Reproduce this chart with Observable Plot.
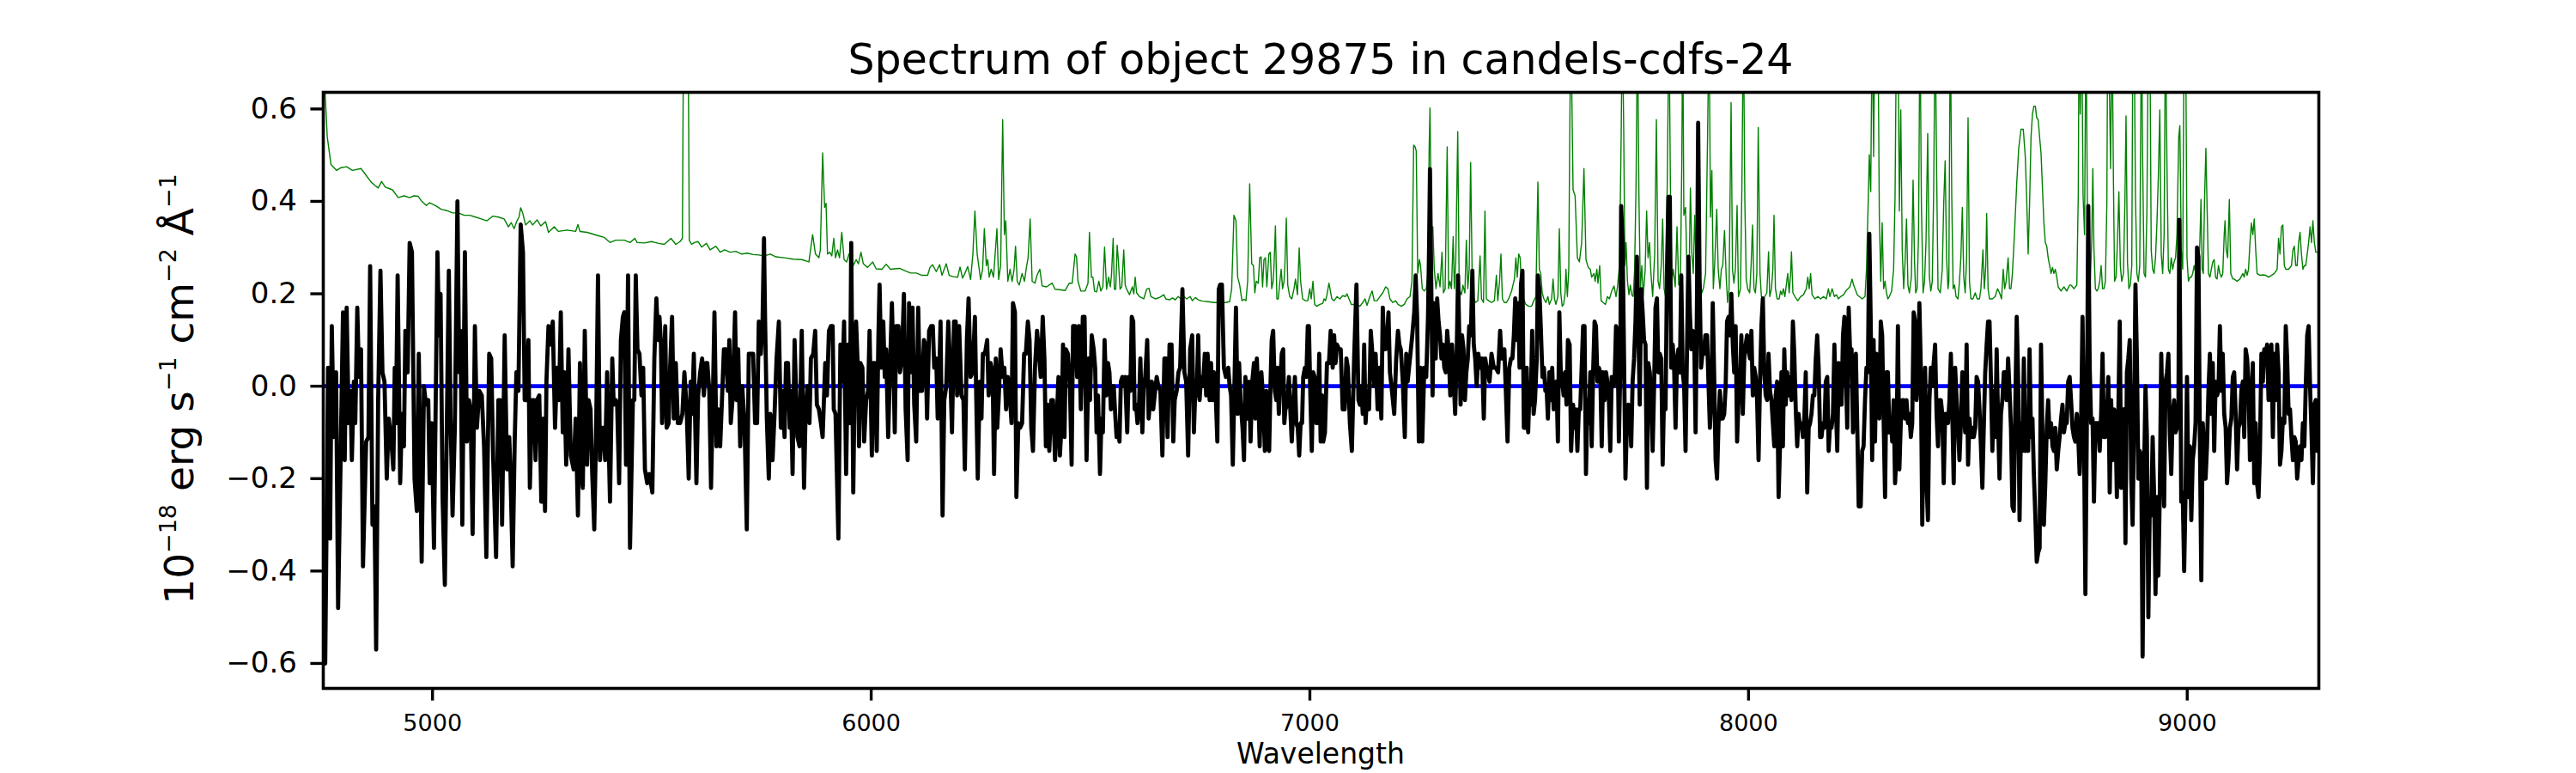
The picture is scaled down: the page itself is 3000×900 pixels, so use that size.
<!DOCTYPE html>
<html>
<head>
<meta charset="utf-8">
<script src="https://cdn.jsdelivr.net/npm/d3@7"></script>
<script src="https://cdn.jsdelivr.net/npm/@observablehq/plot@0.6"></script>
<style>
  html, body { margin: 0; padding: 0; background: #fff; }
  #chart { width: 3000px; height: 900px; }
</style>
</head>
<body>
<div id="chart"></div>
<script>
const titleText = "Spectrum of object 29875 in candels-cdfs-24";
const xLabelText = "Wavelength";
const xTicks = [5000, 6000, 7000, 8000, 9000];
const yTicks = [-0.6, -0.4, -0.2, 0.0, 0.2, 0.4, 0.6];
const xDomain = [4751, 9300];
const yDomain = [-0.654, 0.636];
const zeroLevel = [0];

// object flux [wavelength, flux]
const fluxPoints = [
[4752.1,-0.59],[4755.4,-0.60],[4761.9,0.04],[4766.5,-0.33],[4770.4,0.13],[4775.0,-0.11],[4780.2,0.03],[4784.8,-0.48],[4790.0,-0.19],[4795.9,0.16],[4799.8,-0.16],[4804.3,0.17],[4808.9,-0.08],[4812.8,-0.01],[4816.1,-0.16],[4820.7,0.01],[4823.9,-0.08],[4828.5,0.17],[4832.4,0.02],[4837.0,0.08],[4841.5,-0.39],[4848.7,-0.12],[4853.9,-0.11],[4857.8,0.26],[4863.1,-0.30],[4867.6,-0.26],[4871.5,-0.57],[4876.1,-0.03],[4881.3,0.25],[4885.9,0.03],[4890.5,0.01],[4895.7,-0.20],[4900.2,-0.07],[4905.5,-0.11],[4910.7,-0.18],[4913.9,0.04],[4916.6,-0.08],[4920.5,0.24],[4926.3,-0.21],[4930.3,-0.06],[4934.8,-0.13],[4938.1,0.12],[4943.3,0.03],[4947.9,0.31],[4953.1,0.29],[4959.0,-0.20],[4964.2,-0.27],[4968.7,0.07],[4975.3,-0.38],[4980.5,0.00],[4985.1,-0.04],[4990.3,-0.03],[4993.5,-0.21],[4998.1,-0.08],[5003.3,-0.35],[5006.6,-0.09],[5011.2,0.29],[5015.1,0.11],[5018.3,0.20],[5022.9,-0.24],[5028.1,-0.43],[5032.7,-0.08],[5037.2,0.25],[5041.2,-0.07],[5045.7,-0.28],[5050.9,-0.09],[5056.8,0.40],[5060.7,0.03],[5064.0,0.12],[5067.9,-0.30],[5073.8,0.29],[5078.4,-0.12],[5082.9,-0.03],[5086.8,-0.05],[5091.4,-0.32],[5096.6,0.13],[5101.2,-0.09],[5106.4,-0.01],[5112.3,-0.02],[5117.5,-0.13],[5122.7,-0.37],[5129.2,0.07],[5133.8,0.06],[5138.4,-0.16],[5144.9,-0.37],[5150.1,-0.03],[5154.7,-0.03],[5158.6,-0.30],[5164.5,0.11],[5169.7,-0.18],[5174.9,-0.11],[5177.5,-0.18],[5182.7,-0.39],[5187.3,-0.12],[5191.2,0.03],[5195.8,-0.01],[5201.0,0.35],[5206.2,0.29],[5210.1,-0.03],[5214.1,-0.03],[5218.6,0.10],[5221.9,-0.22],[5227.1,-0.03],[5231.7,-0.03],[5234.9,-0.16],[5238.2,-0.03],[5243.4,-0.02],[5248.0,-0.25],[5251.9,-0.07],[5256.5,-0.27],[5259.7,0.01],[5264.3,0.13],[5269.5,0.09],[5274.1,0.14],[5279.3,-0.09],[5283.9,0.04],[5288.4,-0.03],[5292.4,0.16],[5296.9,-0.10],[5300.2,0.03],[5304.7,-0.17],[5309.9,0.08],[5315.2,-0.15],[5321.7,-0.18],[5326.3,-0.07],
[5331.5,-0.28],[5336.1,0.05],[5339.3,-0.18],[5342.6,-0.22],[5347.1,0.12],[5352.4,-0.17],[5355.6,-0.03],[5360.2,-0.05],[5364.1,-0.19],[5368.7,-0.31],[5373.2,-0.08],[5377.2,0.24],[5381.7,-0.16],[5386.3,-0.09],[5390.2,-0.09],[5393.5,-0.16],[5398.0,0.03],[5404.6,-0.25],[5409.8,0.06],[5413.0,-0.04],[5417.6,-0.03],[5420.9,-0.04],[5425.4,-0.21],[5429.4,0.10],[5433.9,0.15],[5437.2,0.16],[5441.1,-0.17],[5445.7,0.24],[5450.2,-0.35],[5456.8,-0.03],[5460.0,-0.03],[5463.3,0.24],[5467.2,0.08],[5471.8,0.07],[5476.3,-0.02],[5480.2,0.04],[5484.2,-0.18],[5489.4,-0.21],[5493.9,-0.19],[5497.9,-0.21],[5501.1,-0.23],[5505.7,0.06],[5510.3,0.19],[5514.2,0.10],[5517.4,0.15],[5520.7,0.09],[5523.3,-0.08],[5526.6,0.01],[5530.5,0.13],[5533.7,-0.09],[5538.3,-0.08],[5541.6,0.04],[5546.1,0.15],[5550.0,-0.07],[5554.6,0.05],[5559.2,-0.08],[5564.4,-0.08],[5569.6,-0.06],[5574.2,0.03],[5579.4,-0.05],[5584.0,-0.20],[5588.5,0.01],[5591.8,-0.06],[5595.7,0.07],[5601.6,-0.21],[5605.5,-0.02],[5610.1,0.03],[5614.6,0.06],[5618.5,-0.02],[5623.1,0.05],[5626.4,0.05],[5630.9,-0.01],[5634.9,-0.22],[5639.4,-0.01],[5642.7,0.16],[5647.3,-0.13],[5651.2,-0.05],[5655.7,-0.13],[5659.0,-0.05],[5664.2,0.08],[5668.8,0.08],[5673.3,-0.01],[5676.6,0.10],[5679.9,-0.08],[5683.8,-0.03],[5689.7,0.16],[5692.9,-0.03],[5696.8,0.08],[5701.4,-0.13],[5706.0,0.00],[5711.2,-0.08],[5716.4,-0.31],[5721.0,0.07],[5726.2,0.07],[5730.8,0.07],[5735.3,-0.08],[5739.9,-0.08],[5743.8,0.14],[5748.4,0.07],[5752.3,0.14],[5755.6,0.32],[5758.2,0.14],[5762.1,-0.07],[5766.6,-0.20],[5769.9,-0.06],[5775.1,-0.16],[5779.7,-0.06],[5784.3,0.06],[5789.5,0.14],[5794.0,-0.09],[5798.0,-0.01],[5802.5,-0.11],[5805.8,0.05],[5810.4,0.05],[5814.3,-0.09],[5816.9,-0.01],[5820.8,-0.19],[5825.4,0.10],[5828.6,-0.01],[5831.9,-0.11],[5836.5,-0.13],[5841.7,0.12],[5846.9,-0.22],[5850.2,-0.07],[5854.7,0.00],[5859.3,-0.08],[5862.6,0.06],[5867.8,0.07],[5872.3,0.12],[5876.2,-0.04],[5880.8,-0.05],[5885.4,-0.08],[5889.3,-0.11],
[5895.2,0.05],[5899.1,-0.02],[5903.7,0.12],[5908.2,0.13],[5912.1,0.13],[5914.7,-0.05],[5918.7,-0.06],[5921.3,-0.17],[5925.2,-0.33],[5929.8,0.09],[5934.3,0.01],[5938.2,0.14],[5942.8,-0.19],[5947.4,0.09],[5951.3,-0.08],[5954.5,0.31],[5959.1,-0.23],[5962.4,0.02],[5965.6,0.14],[5970.2,0.02],[5972.2,-0.13],[5975.4,0.05],[5980.0,0.04],[5983.9,-0.12],[5988.5,-0.03],[5993.0,-0.01],[5996.3,0.12],[6001.5,-0.15],[6004.8,0.05],[6008.0,0.05],[6012.6,-0.14],[6016.5,0.11],[6019.1,0.22],[6023.0,0.04],[6027.6,0.14],[6030.9,0.02],[6034.1,0.08],[6038.7,-0.11],[6042.6,0.03],[6047.2,0.18],[6050.4,0.06],[6053.7,-0.10],[6057.0,0.13],[6062.2,0.13],[6065.5,0.03],[6070.0,0.06],[6074.6,0.20],[6078.5,-0.05],[6083.1,-0.16],[6086.3,0.18],[6089.6,0.03],[6094.2,0.17],[6098.1,-0.04],[6102.6,-0.12],[6107.2,0.17],[6111.1,-0.01],[6115.7,-0.01],[6120.3,0.10],[6123.5,0.09],[6127.4,-0.07],[6132.0,0.12],[6136.6,0.13],[6140.5,0.13],[6143.7,0.04],[6148.3,0.06],[6151.6,-0.07],[6154.8,0.01],[6158.1,0.14],[6162.7,-0.28],[6166.6,-0.03],[6171.1,0.00],[6175.7,0.14],[6179.6,0.05],[6184.2,-0.10],[6188.8,0.14],[6192.7,0.14],[6195.9,-0.02],[6200.5,0.13],[6205.7,-0.02],[6210.3,-0.03],[6213.5,-0.18],[6218.1,0.10],[6222.0,0.19],[6226.6,0.02],[6231.2,0.03],[6236.4,0.15],[6239.6,-0.03],[6242.9,-0.20],[6247.5,0.01],[6251.4,-0.07],[6254.6,0.07],[6259.2,0.07],[6264.4,0.10],[6267.7,-0.02],[6272.3,0.05],[6276.8,0.03],[6280.1,-0.19],[6284.0,0.06],[6287.3,-0.09],[6290.5,-0.03],[6295.1,0.08],[6299.7,0.02],[6303.6,0.04],[6307.5,-0.05],[6311.4,0.02],[6316.0,-0.02],[6319.9,-0.08],[6323.2,0.18],[6327.7,0.16],[6331.0,-0.24],[6335.5,-0.08],[6339.5,-0.09],[6344.0,-0.08],[6348.6,0.07],[6352.5,0.07],[6357.1,0.14],[6361.0,0.10],[6364.9,-0.09],[6368.8,-0.14],[6373.4,0.04],[6378.0,0.12],[6381.9,0.08],[6386.4,0.02],[6391.0,0.15],[6394.9,0.06],[6398.2,-0.13],[6402.7,-0.04],[6406.0,-0.14],[6410.6,-0.03],[6414.5,-0.03],[6419.1,-0.16],[6422.3,-0.09],[6426.9,0.02],[6430.2,-0.15],[6434.1,-0.08],[6437.3,0.09],[6440.6,-0.11],[6443.9,0.08],[6448.4,0.07],[6453.0,0.00],[6456.9,-0.17],[6460.2,0.13],
[6464.8,0.13],[6469.4,0.02],[6473.3,0.13],[6477.9,-0.05],[6482.4,0.15],[6486.4,0.15],[6490.9,-0.16],[6495.5,0.06],[6498.8,-0.03],[6502.7,0.11],[6507.2,0.08],[6510.5,0.04],[6513.8,-0.10],[6517.0,-0.02],[6521.6,-0.19],[6524.9,-0.07],[6528.1,-0.10],[6532.0,0.10],[6535.9,-0.02],[6539.9,0.05],[6543.1,0.03],[6546.4,-0.05],[6549.6,0.00],[6552.9,0.00],[6556.2,-0.06],[6559.4,-0.11],[6562.7,-0.09],[6566.0,-0.12],[6569.2,0.01],[6572.5,0.02],[6575.7,0.00],[6579.0,0.02],[6583.6,-0.10],[6586.8,0.02],[6590.7,-0.01],[6594.0,0.15],[6597.3,0.14],[6600.5,-0.05],[6603.8,-0.04],[6607.1,-0.08],[6610.3,-0.05],[6613.6,0.06],[6618.1,-0.10],[6621.4,0.00],[6624.7,0.02],[6629.2,0.10],[6632.5,-0.07],[6636.4,-0.02],[6639.7,0.01],[6642.9,-0.05],[6646.2,-0.02],[6650.8,0.02],[6654.7,0.00],[6659.2,-0.01],[6663.8,-0.15],[6668.4,0.06],[6672.3,0.06],[6675.6,-0.11],[6680.1,0.09],[6684.7,0.09],[6688.6,-0.12],[6691.9,-0.03],[6696.4,-0.01],[6700.4,0.03],[6704.3,0.04],[6709.5,0.21],[6714.0,0.03],[6718.0,0.01],[6722.5,-0.15],[6727.1,0.08],[6731.7,0.11],[6735.6,-0.10],[6738.8,-0.01],[6742.1,-0.02],[6745.4,0.11],[6748.6,-0.03],[6751.9,0.02],[6756.5,0.00],[6760.4,0.07],[6763.6,-0.02],[6766.9,0.07],[6771.5,-0.03],[6774.7,0.05],[6778.0,-0.03],[6781.2,0.03],[6785.8,-0.03],[6789.1,-0.12],[6792.3,0.21],[6795.6,0.22],[6799.5,0.22],[6804.1,0.04],[6808.6,0.02],[6813.9,0.04],[6817.1,0.00],[6820.4,-0.02],[6824.3,-0.17],[6828.2,0.01],[6831.5,0.17],[6835.4,-0.06],[6838.7,0.05],[6841.9,-0.03],[6846.5,-0.09],[6849.8,-0.16],[6853.0,0.02],[6857.6,-0.07],[6861.5,0.01],[6864.8,-0.12],[6868.7,0.01],[6872.6,0.05],[6875.8,-0.07],[6879.1,0.06],[6883.0,-0.04],[6885.6,-0.13],[6889.5,0.03],[6893.5,-0.03],[6897.4,-0.14],[6900.6,-0.01],[6903.2,-0.13],[6907.2,-0.14],[6910.4,0.01],[6913.0,0.10],[6916.3,0.12],[6920.2,-0.01],[6923.5,-0.03],[6926.1,0.04],[6929.3,-0.06],[6932.6,0.01],[6935.9,0.07],[6939.1,0.08],[6941.7,-0.08],[6944.3,-0.05],[6948.3,-0.04],[6952.2,0.02],[6955.4,-0.05],[6958.7,-0.12],[6962.6,-0.04],[6965.9,0.02],[6969.1,-0.08],[6972.4,-0.09],[6975.7,-0.15],[6978.9,-0.08],[6982.2,-0.08],[6984.8,0.02],[6988.7,0.04],[6992.0,0.02],[6995.2,0.13],[6997.8,0.13],[7001.1,-0.02],[7004.4,-0.14],[7007.6,0.03],[7010.9,0.02],[7014.8,-0.08],[7018.1,-0.08],[7021.3,0.07],[7024.6,-0.12],[7027.9,-0.02],
[7030.5,-0.12],[7034.4,-0.10],[7039.0,0.05],[7043.5,0.05],[7047.4,0.12],[7052.0,0.04],[7055.3,0.11],[7058.5,0.05],[7061.8,0.09],[7066.4,0.08],[7070.3,0.08],[7074.8,-0.05],[7079.4,-0.05],[7083.3,0.06],[7086.6,0.04],[7091.2,-0.08],[7095.7,-0.14],[7100.9,0.06],[7106.2,0.22],[7110.7,-0.03],[7114.0,-0.04],[7117.2,0.00],[7120.5,-0.06],[7123.8,0.09],[7127.0,-0.08],[7130.9,-0.01],[7134.9,-0.05],[7138.8,0.12],[7143.3,0.06],[7146.6,0.00],[7149.9,0.07],[7154.4,-0.05],[7158.3,0.04],[7162.9,-0.07],[7166.2,0.17],[7169.4,0.08],[7172.7,0.08],[7176.0,0.11],[7179.2,0.16],[7182.5,0.03],[7187.1,-0.01],[7192.3,-0.06],[7196.8,0.06],[7200.8,0.12],[7204.0,0.09],[7207.3,0.08],[7211.8,0.01],[7216.4,-0.11],[7219.7,0.07],[7222.9,0.01],[7228.2,0.06],[7233.4,0.11],[7237.9,0.16],[7241.2,0.24],[7244.5,0.15],[7248.4,-0.12],[7252.3,0.04],[7256.2,-0.12],[7260.8,0.04],[7265.3,0.02],[7269.3,0.15],[7271.9,0.31],[7273.8,0.47],[7277.1,0.19],[7279.7,-0.02],[7282.3,0.18],[7286.9,0.06],[7290.1,0.19],[7293.4,0.14],[7296.7,0.11],[7299.9,0.06],[7303.2,0.09],[7306.4,0.04],[7309.7,0.03],[7313.0,0.12],[7316.2,0.08],[7320.1,-0.02],[7324.1,0.09],[7328.0,0.01],[7331.2,-0.06],[7334.5,0.06],[7337.8,0.24],[7341.0,0.09],[7343.6,-0.04],[7346.9,0.11],[7350.2,0.08],[7353.4,-0.03],[7356.7,0.03],[7360.0,0.06],[7363.2,0.13],[7367.1,0.11],[7370.4,0.25],[7373.6,0.09],[7376.9,0.06],[7380.2,0.00],[7384.1,0.07],[7388.0,0.04],[7392.6,0.06],[7396.5,-0.07],[7399.7,0.06],[7403.0,0.04],[7406.3,0.03],[7409.5,0.01],[7414.1,0.07],[7419.3,0.04],[7423.9,0.04],[7429.1,0.03],[7433.7,0.12],[7436.9,0.06],[7440.2,0.06],[7443.4,0.08],[7446.7,-0.01],[7450.6,-0.12],[7454.5,0.04],[7458.5,0.06],[7461.7,0.06],[7465.0,0.11],[7468.2,0.19],[7471.5,0.10],[7474.8,0.18],[7478.0,0.04],[7481.3,0.22],[7484.6,0.25],[7487.8,-0.09],[7491.1,-0.09],[7494.3,0.04],[7497.6,-0.10],[7500.2,-0.02],[7503.5,-0.04],[7506.7,0.12],[7510.0,-0.06],[7513.3,-0.03],[7517.2,0.06],[7519.8,0.24],[7523.1,0.21],[7526.3,0.13],[7530.2,0.02],[7533.5,0.04],[7536.8,-0.01],[7539.4,0.00],[7542.6,-0.07],[7545.9,0.03],[7549.1,-0.03],[7552.4,0.04],[7555.7,-0.05],[7558.9,-0.03],[7562.2,0.01],[7565.4,-0.12],[7568.7,0.16],[7572.0,0.03],[7575.2,0.01],[7578.5,-0.02],[7581.8,0.03],[7585.0,-0.04],[7588.3,0.10],[7592.2,0.09],[7595.5,-0.14],
[7600.0,-0.04],[7603.3,-0.09],[7606.6,-0.05],[7609.8,-0.14],[7613.1,-0.05],[7616.3,-0.05],[7619.6,0.04],[7622.9,0.13],[7626.1,0.13],[7629.4,-0.19],[7632.7,-0.03],[7635.9,-0.08],[7639.2,0.03],[7642.4,-0.13],[7645.7,0.03],[7649.0,0.14],[7652.2,0.13],[7655.5,0.01],[7658.8,0.04],[7662.0,0.03],[7665.3,-0.13],[7668.5,0.03],[7671.8,-0.03],[7675.1,0.03],[7678.3,0.01],[7681.6,-0.03],[7684.8,-0.14],[7688.1,0.02],[7691.4,0.00],[7694.6,0.01],[7697.9,0.13],[7701.2,0.12],[7704.4,-0.12],[7707.7,0.04],[7709.6,0.39],[7712.9,0.31],[7716.2,0.06],[7719.4,-0.20],[7722.7,-0.08],[7726.0,-0.04],[7729.2,-0.05],[7732.5,-0.13],[7735.7,0.01],[7739.0,0.06],[7742.3,0.14],[7745.5,0.28],[7748.8,0.13],[7752.0,-0.04],[7755.3,0.21],[7758.6,0.16],[7761.8,0.10],[7765.1,0.09],[7768.4,-0.22],[7771.6,0.05],[7774.9,0.03],[7778.1,-0.03],[7781.4,-0.14],[7784.7,0.00],[7787.9,0.17],[7791.2,0.19],[7794.4,0.03],[7797.7,0.07],[7801.0,0.06],[7804.2,-0.17],[7807.5,-0.01],[7810.8,-0.05],[7814.0,0.24],[7817.3,0.41],[7820.5,0.41],[7823.8,0.04],[7827.1,0.09],[7830.3,0.04],[7833.6,-0.09],[7836.9,0.06],[7840.1,0.08],[7843.4,0.03],[7846.6,0.24],[7849.9,0.03],[7853.2,0.00],[7856.4,-0.14],[7859.7,0.08],[7863.0,0.28],[7866.2,0.16],[7869.5,0.08],[7872.7,0.12],[7876.0,0.11],[7879.3,-0.10],[7882.5,0.19],[7885.1,0.57],[7888.4,0.23],[7891.7,0.04],[7894.9,0.07],[7898.2,0.07],[7901.4,0.11],[7905.4,0.11],[7908.6,0.01],[7911.9,-0.09],[7915.1,-0.03],[7918.4,0.18],[7921.7,0.02],[7924.9,-0.16],[7928.2,-0.20],[7931.5,-0.08],[7934.7,-0.01],[7938.0,-0.07],[7941.2,-0.07],[7944.5,-0.06],[7947.8,0.00],[7951.0,0.14],[7954.3,0.15],[7957.6,0.11],[7960.8,0.20],[7964.1,0.09],[7967.3,0.03],[7970.6,0.13],[7973.9,-0.12],[7977.1,-0.03],[7980.4,0.01],[7983.6,0.11],[7986.9,-0.06],[7990.2,0.06],[7993.4,0.09],[7996.7,0.11],[8000.0,0.08],[8003.2,0.06],[8006.5,0.12],[8009.7,-0.02],[8013.0,0.04],[8016.3,0.02],[8019.5,-0.03],[8022.8,-0.16],[8026.1,0.01],[8029.3,0.13],[8032.6,0.19],[8035.8,0.03],[8039.1,-0.02],[8042.4,-0.03],[8045.6,0.07],[8048.9,-0.01],[8052.2,-0.03],[8055.4,-0.08],[8058.7,-0.13],[8061.9,-0.02],[8065.2,0.01],[8068.5,-0.24],[8071.7,-0.13],[8075.0,0.03],[8078.3,-0.13],[8081.5,0.08],[8084.8,-0.04],[8088.0,0.03],[8091.3,-0.02],[8094.6,0.02],[8097.8,-0.03],[8101.1,0.14],[8104.3,0.07],[8107.6,-0.05],[8110.9,-0.13],[8114.1,-0.06],[8117.4,-0.09],[8120.7,-0.08],[8123.9,-0.11],[8127.2,-0.07],[8130.4,0.03],[8133.7,-0.23],[8137.0,-0.09],[8140.2,-0.08],[8143.5,-0.06],[8146.7,-0.02],[8150.0,-0.02],[8153.3,0.06],[8156.5,0.11],[8159.8,0.04],[8163.1,-0.11],
[8166.3,-0.11],[8169.6,-0.08],[8172.9,-0.09],[8176.1,0.01],[8179.4,0.02],[8182.6,-0.14],[8185.9,-0.08],[8189.2,-0.09],[8192.4,-0.06],[8195.7,0.09],[8199.0,-0.04],[8202.2,-0.14],[8205.5,0.05],[8208.7,0.04],[8212.0,-0.04],[8215.3,0.11],[8218.5,0.15],[8221.8,0.03],[8225.0,-0.09],[8228.3,0.17],[8231.6,0.07],[8234.8,0.08],[8238.1,-0.10],[8241.4,-0.03],[8244.6,0.07],[8247.9,-0.09],[8251.1,-0.26],[8255.7,-0.26],[8259.0,-0.14],[8262.2,-0.13],[8265.5,-0.03],[8268.8,0.04],[8272.0,0.03],[8275.3,0.33],[8278.5,0.14],[8281.8,-0.16],[8285.1,0.10],[8288.3,-0.12],[8291.6,0.07],[8294.9,0.06],[8298.1,-0.07],[8301.4,0.14],[8304.6,0.11],[8307.9,-0.07],[8311.2,-0.24],[8314.4,0.03],[8317.7,0.03],[8320.9,-0.10],[8324.2,-0.07],[8327.5,-0.12],[8330.7,-0.03],[8334.0,-0.21],[8337.3,-0.14],[8340.5,0.13],[8343.8,-0.18],[8347.0,-0.08],[8350.3,-0.03],[8353.6,-0.03],[8356.8,-0.07],[8360.1,-0.03],[8363.3,-0.08],[8366.6,-0.06],[8369.9,-0.11],[8373.1,-0.08],[8376.4,0.16],[8379.7,0.14],[8382.9,-0.03],[8386.2,0.01],[8389.4,0.18],[8392.7,0.04],[8396.0,-0.30],[8399.2,-0.08],[8402.5,0.04],[8405.8,-0.21],[8409.0,-0.29],[8412.3,-0.03],[8415.5,0.04],[8418.8,0.00],[8422.1,0.05],[8425.3,0.09],[8428.6,-0.06],[8431.9,-0.13],[8435.1,-0.03],[8438.4,-0.03],[8441.6,-0.06],[8444.9,-0.21],[8448.2,-0.06],[8451.4,-0.06],[8454.7,-0.08],[8458.0,-0.03],[8461.2,0.07],[8464.5,-0.06],[8467.7,-0.21],[8471.0,0.04],[8474.3,-0.03],[8477.5,-0.09],[8480.8,-0.16],[8484.0,-0.08],[8487.3,0.03],[8490.6,-0.04],[8493.8,-0.10],[8497.1,0.09],[8500.4,-0.17],[8503.6,-0.07],[8506.9,-0.11],[8510.1,-0.09],[8513.4,-0.11],[8516.7,-0.09],[8519.9,0.02],[8523.2,0.01],[8526.5,-0.05],[8529.7,-0.13],[8533.0,-0.22],[8536.2,-0.09],[8539.5,0.03],[8542.8,0.09],[8546.0,0.14],[8549.3,0.14],[8552.6,0.01],[8555.8,-0.14],[8559.1,-0.01],[8562.3,-0.11],[8565.6,0.08],[8568.9,-0.08],[8572.1,-0.20],[8575.4,-0.06],[8578.6,-0.03],[8581.9,0.03],[8585.2,0.03],[8588.4,-0.03],[8591.7,0.06],[8595.0,-0.01],[8598.2,-0.09],[8601.5,-0.26],[8604.7,-0.27],[8608.0,-0.05],[8611.3,0.15],[8614.5,0.02],[8617.8,-0.29],[8621.1,-0.08],[8624.3,-0.14],[8627.6,0.06],[8630.8,-0.14],[8634.1,-0.05],[8637.4,-0.14],[8640.6,0.08],[8643.9,-0.11],[8647.2,-0.07],[8650.4,-0.19],[8653.7,-0.28],[8656.9,-0.38],[8660.2,-0.36],[8663.5,-0.35],[8666.7,0.09],[8670.0,-0.11],[8673.2,-0.30],[8676.5,-0.21],[8679.8,-0.09],[8683.0,-0.03],[8686.3,-0.11],[8689.6,-0.08],[8692.8,-0.13],[8696.1,-0.14],[8699.3,-0.09],[8702.6,-0.18],[8705.9,-0.14],[8709.1,-0.11],[8712.4,-0.07],[8715.7,-0.04],[8718.9,-0.10],[8722.2,-0.08],[8725.4,-0.08],[8728.7,0.01],[8732.0,0.02],
[8735.2,-0.03],[8738.5,-0.09],[8741.8,-0.11],[8745.0,-0.12],[8748.3,-0.06],[8751.6,-0.11],[8754.8,-0.19],[8758.1,-0.08],[8761.3,0.15],[8764.6,-0.11],[8767.9,-0.45],[8771.1,-0.09],[8774.4,0.39],[8777.7,0.04],[8780.9,-0.08],[8784.2,-0.07],[8787.4,-0.25],[8790.7,-0.08],[8794.0,-0.08],[8797.2,-0.08],[8800.5,-0.14],[8803.8,-0.06],[8807.0,0.07],[8810.3,-0.11],[8813.5,-0.11],[8816.8,-0.08],[8820.1,0.02],[8823.3,-0.23],[8826.6,-0.03],[8829.8,-0.16],[8833.1,-0.05],[8836.4,-0.06],[8839.6,-0.24],[8842.9,-0.06],[8846.2,0.14],[8849.4,-0.22],[8852.7,-0.06],[8855.9,-0.05],[8859.2,-0.34],[8862.5,0.03],[8865.7,0.06],[8869.0,0.10],[8872.3,-0.20],[8875.5,-0.30],[8878.8,-0.08],[8882.0,0.22],[8885.3,0.06],[8888.6,-0.20],[8891.8,-0.14],[8895.1,-0.15],[8898.3,-0.585],[8901.6,-0.19],[8904.9,0.00],[8908.1,-0.11],[8911.4,-0.50],[8914.7,-0.25],[8917.9,-0.28],[8921.2,-0.11],[8924.4,-0.23],[8927.7,-0.45],[8931.0,-0.24],[8934.2,-0.41],[8937.5,-0.23],[8940.8,0.07],[8944.0,-0.09],[8947.3,-0.26],[8950.5,0.01],[8953.8,0.03],[8957.1,0.07],[8960.3,-0.10],[8963.6,-0.19],[8966.9,-0.06],[8970.1,-0.03],[8973.4,-0.10],[8976.6,-0.09],[8979.9,-0.06],[8981.9,0.36],[8984.5,0.03],[8986.4,-0.25],[8989.7,-0.23],[8993.0,-0.40],[8996.2,-0.23],[8999.5,0.02],[9002.7,-0.24],[9006.0,-0.13],[9009.3,-0.29],[9012.5,-0.16],[9015.8,-0.13],[9019.0,-0.08],[9022.3,0.30],[9025.6,0.28],[9028.8,-0.11],[9032.1,-0.42],[9035.4,-0.08],[9038.6,-0.14],[9041.9,-0.20],[9045.1,-0.13],[9048.4,-0.01],[9051.7,0.07],[9054.9,-0.06],[9058.2,0.05],[9061.5,-0.14],[9064.7,0.01],[9068.0,-0.02],[9071.2,-0.01],[9074.5,0.13],[9077.8,-0.01],[9081.0,0.07],[9084.3,-0.06],[9087.6,-0.09],[9090.8,-0.21],[9094.1,-0.16],[9097.3,-0.09],[9100.6,-0.07],[9103.9,0.02],[9107.1,0.03],[9110.4,-0.06],[9113.6,-0.18],[9116.9,-0.09],[9120.2,-0.08],[9123.4,-0.01],[9126.7,0.01],[9130.0,-0.11],[9133.2,0.08],[9136.5,0.06],[9139.7,0.01],[9143.0,-0.16],[9146.3,-0.08],[9149.5,0.05],[9152.8,-0.21],[9156.1,-0.08],[9159.3,-0.21],[9162.6,-0.24],[9165.8,-0.14],[9169.1,0.07],[9172.4,0.01],[9175.6,0.08],[9178.9,0.07],[9182.1,0.09],[9185.4,-0.03],[9188.7,0.06],[9191.9,0.09],[9195.2,-0.11],[9198.5,0.07],[9201.7,-0.03],[9205.0,0.09],[9208.2,0.03],[9211.5,-0.17],[9214.8,-0.14],[9218.0,-0.07],[9221.3,-0.08],[9224.6,0.13],[9227.8,0.06],[9231.1,-0.06],[9234.3,-0.05],[9237.6,-0.11],[9240.9,-0.16],[9244.1,-0.11],[9247.4,-0.12],[9250.6,-0.20],[9253.9,-0.16],[9257.2,-0.13],[9260.4,-0.16],[9263.7,-0.08],[9267.0,-0.13],[9270.2,0.00],[9273.5,0.11],[9276.7,0.13],[9280.0,0.00],[9283.3,-0.10],[9286.5,-0.21],[9289.8,-0.04],[9293.1,-0.03],[9296.3,-0.14],[9299.6,-0.04]
];

// noise / sky spectrum [wavelength, value]
const skyPoints = [
[4750.8,0.75],[4755.4,0.63],[4760.0,0.54],[4768.5,0.48],[4781.5,0.467],[4791.3,0.473],[4804.3,0.475],[4817.4,0.467],[4837.0,0.471],[4846.7,0.459],[4859.8,0.442],[4869.6,0.434],[4876.1,0.429],[4883.9,0.443],[4892.4,0.431],[4908.7,0.425],[4921.8,0.408],[4934.8,0.412],[4947.9,0.408],[4957.7,0.412],[4967.4,0.411],[4974.0,0.402],[4985.7,0.391],[4993.5,0.397],[5006.6,0.391],[5019.6,0.383],[5032.7,0.380],[5045.7,0.375],[5058.8,0.375],[5071.8,0.370],[5084.9,0.370],[5097.9,0.366],[5111.0,0.362],[5124.0,0.358],[5137.1,0.368],[5150.1,0.366],[5163.2,0.362],[5173.0,0.345],[5179.5,0.354],[5186.0,0.341],[5192.5,0.358],[5197.1,0.366],[5201.0,0.386],[5205.6,0.375],[5212.1,0.349],[5221.9,0.358],[5228.4,0.349],[5238.2,0.360],[5246.7,0.347],[5257.8,0.356],[5264.3,0.333],[5277.3,0.345],[5287.1,0.335],[5306.7,0.338],[5326.3,0.335],
[5331.5,0.350],[5336.1,0.335],[5352.4,0.333],[5373.2,0.327],[5391.5,0.322],[5404.6,0.311],[5417.6,0.316],[5437.2,0.316],[5450.2,0.311],[5461.3,0.320],[5466.5,0.311],[5482.8,0.310],[5499.2,0.313],[5515.5,0.309],[5528.5,0.307],[5543.5,0.320],[5554.6,0.307],[5564.4,0.313],[5569.6,0.320],[5572.9,0.9],[5577.5,0.95],[5582.0,0.9],[5585.3,0.316],[5590.5,0.307],[5597.0,0.311],[5605.5,0.313],[5613.3,0.301],[5624.4,0.309],[5632.9,0.295],[5646.0,0.303],[5655.7,0.290],[5665.5,0.295],[5678.6,0.290],[5691.6,0.292],[5704.7,0.286],[5717.7,0.288],[5730.8,0.285],[5743.8,0.284],[5756.9,0.282],[5769.9,0.286],[5782.9,0.280],[5802.5,0.278],[5822.1,0.275],[5841.7,0.274],[5858.0,0.269],[5866.5,0.328],[5873.0,0.286],[5880.8,0.278],[5884.1,0.295],[5889.3,0.505],
[5893.9,0.387],[5897.1,0.396],[5900.4,0.286],[5905.6,0.290],[5910.2,0.282],[5914.7,0.320],[5918.7,0.278],[5923.2,0.295],[5927.8,0.278],[5933.0,0.333],[5938.2,0.274],[5944.1,0.269],[5949.3,0.286],[5953.9,0.274],[5959.1,0.261],[5965.6,0.274],[5970.9,0.265],[5976.7,0.290],[5982.0,0.265],[5991.7,0.257],[6003.5,0.269],[6011.3,0.254],[6024.4,0.253],[6034.1,0.264],[6043.9,0.253],[6064.8,0.255],[6076.5,0.250],[6089.6,0.245],[6102.6,0.245],[6115.7,0.240],[6128.7,0.240],[6134.0,0.257],[6139.8,0.263],[6148.3,0.248],[6156.1,0.263],[6161.4,0.240],[6171.1,0.265],[6177.7,0.240],[6187.5,0.237],[6197.2,0.236],[6202.5,0.258],[6208.3,0.234],[6213.5,0.244],[6220.1,0.259],[6226.6,0.231],[6231.8,0.286],[6236.4,0.379],[6241.6,0.286],[6249.4,0.231],[6254.0,0.253],[6257.9,0.341],[6262.5,0.261],[6265.7,0.274],[6269.0,0.236],[6273.6,0.253],[6278.8,0.236],[6282.0,0.278],[6286.6,0.341],[6290.5,0.231],[6295.1,0.261],[6299.7,0.577],[6303.6,0.328],[6306.8,0.358],[6311.4,0.227],[6316.6,0.253],[6321.2,0.227],[6325.8,0.253],[6329.0,0.303],[6332.9,0.227],[6337.5,0.219],[6344.0,0.244],[6349.3,0.227],[6353.8,0.257],[6357.7,0.278],[6362.3,0.362],[6366.9,0.227],[6373.4,0.223],[6378.0,0.240],[6384.5,0.253],[6389.7,0.217],[6399.5,0.215],[6412.5,0.223],[6419.1,0.210],[6428.8,0.209],[6441.9,0.207],[6451.7,0.223],[6458.3,0.223],
[6464.8,0.286],[6468.1,0.280],[6471.4,0.227],[6477.9,0.206],[6487.7,0.206],[6494.2,0.223],[6497.5,0.333],[6502.0,0.236],[6505.3,0.236],[6509.2,0.206],[6513.8,0.204],[6519.0,0.227],[6523.6,0.206],[6528.1,0.215],[6532.0,0.301],[6536.6,0.210],[6541.2,0.236],[6545.1,0.215],[6547.7,0.240],[6551.6,0.320],[6554.2,0.210],[6557.5,0.210],[6560.7,0.305],[6563.3,0.274],[6567.3,0.210],[6571.2,0.215],[6575.7,0.295],[6579.0,0.219],[6582.3,0.210],[6588.8,0.198],[6595.3,0.215],[6598.6,0.200],[6601.8,0.236],[6605.1,0.202],[6611.6,0.194],[6621.4,0.189],[6627.9,0.210],[6633.2,0.212],[6637.7,0.194],[6647.5,0.189],[6657.3,0.192],[6667.1,0.198],[6671.6,0.189],[6680.1,0.187],[6686.7,0.191],[6693.2,0.187],[6699.7,0.194],[6706.2,0.189],[6712.7,0.194],[6719.3,0.189],[6727.1,0.194],[6732.3,0.185],[6738.8,0.192],[6745.4,0.187],[6755.2,0.184],[6768.2,0.183],[6781.2,0.181],[6797.6,0.181],[6807.3,0.181],[6817.1,0.183],[6821.7,0.210],[6826.9,0.370],[6831.5,0.358],[6835.4,0.236],[6840.0,0.219],[6845.2,0.185],[6849.8,0.188],[6854.3,0.185],[6858.2,0.227],[6862.8,0.438],[6867.4,0.265],[6871.3,0.261],[6874.5,0.202],[6877.8,0.227],[6882.4,0.223],[6885.6,0.278],[6888.9,0.280],[6892.2,0.215],[6895.4,0.274],[6898.7,0.278],[6901.9,0.215],[6906.5,0.286],[6909.8,0.290],[6913.0,0.211],[6916.3,0.227],[6918.3,0.261],[6921.5,0.347],[6924.8,0.189],[6928.0,0.189],[6931.3,0.223],[6934.6,0.253],[6937.8,0.211],[6941.1,0.227],[6943.0,0.261],[6946.3,0.364],[6949.6,0.219],[6954.1,0.194],[6958.7,0.189],[6963.9,0.211],[6967.2,0.232],[6971.7,0.198],[6975.7,0.299],[6978.9,0.227],[6983.5,0.189],[6990.0,0.185],[6995.2,0.185],[6999.8,0.211],[7003.1,0.189],[7007.0,0.227],[7010.9,0.177],[7016.1,0.173],[7022.6,0.177],[7029.2,0.179],
[7032.4,0.189],[7035.7,0.185],[7039.0,0.198],[7043.5,0.223],[7046.8,0.206],[7050.0,0.189],[7055.3,0.185],[7061.8,0.194],[7068.3,0.189],[7074.8,0.196],[7081.4,0.194],[7084.6,0.200],[7089.2,0.189],[7094.4,0.177],[7100.9,0.177],[7107.5,0.177],[7114.0,0.173],[7120.5,0.181],[7125.7,0.189],[7130.3,0.175],[7136.8,0.194],[7142.0,0.206],[7146.6,0.185],[7153.1,0.185],[7159.7,0.194],[7166.2,0.202],[7172.7,0.215],[7177.9,0.211],[7182.5,0.189],[7189.0,0.181],[7195.5,0.185],[7200.8,0.177],[7208.6,0.173],[7215.1,0.177],[7221.6,0.189],[7228.2,0.194],[7232.7,0.227],[7236.6,0.522],[7239.9,0.518],[7242.5,0.509],[7245.8,0.244],[7249.7,0.274],[7252.3,0.261],[7256.2,0.211],[7260.8,0.206],[7265.3,0.211],[7269.3,0.244],[7271.9,0.514],[7273.8,0.602],[7277.1,0.328],[7280.3,0.345],[7283.6,0.253],[7287.5,0.211],[7292.1,0.244],[7296.7,0.215],[7301.2,0.290],[7304.5,0.202],[7308.4,0.211],[7313.0,0.518],[7316.2,0.211],[7319.5,0.227],[7322.8,0.211],[7326.7,0.324],[7329.3,0.211],[7332.5,0.269],[7337.1,0.551],[7340.4,0.211],[7345.6,0.198],[7348.8,0.219],[7353.4,0.202],[7356.7,0.316],[7360.0,0.211],[7363.2,0.253],[7366.5,0.484],[7369.7,0.257],[7373.0,0.194],[7376.9,0.181],[7382.8,0.185],[7388.0,0.282],[7391.3,0.189],[7395.8,0.181],[7399.1,0.379],[7402.3,0.189],[7407.6,0.185],[7414.1,0.181],[7420.6,0.185],[7425.2,0.240],[7428.4,0.185],[7432.4,0.227],[7435.6,0.286],[7438.9,0.189],[7443.4,0.181],[7448.0,0.181],[7453.2,0.189],[7459.8,0.206],[7466.3,0.232],[7469.6,0.278],[7472.8,0.236],[7476.1,0.286],[7479.3,0.278],[7482.6,0.211],[7487.2,0.189],[7492.4,0.177],[7498.9,0.173],[7505.4,0.173],[7510.6,0.185],[7515.2,0.194],[7519.8,0.442],[7523.1,0.253],[7526.3,0.244],[7529.6,0.202],[7533.5,0.189],[7538.1,0.181],[7542.6,0.194],[7545.9,0.177],[7551.1,0.189],[7554.4,0.232],[7557.6,0.189],[7560.9,0.177],[7565.4,0.194],[7568.7,0.341],[7572.0,0.202],[7575.2,0.173],[7578.5,0.177],[7581.8,0.202],[7583.7,0.253],[7587.0,0.194],[7590.2,0.253],[7592.2,0.522],[7594.8,0.8],
[7600.0,0.425],[7604.6,0.412],[7609.8,0.278],[7614.4,0.269],[7619.6,0.311],[7624.8,0.471],[7629.4,0.274],[7634.6,0.257],[7639.2,0.253],[7642.4,0.236],[7647.7,0.244],[7650.3,0.227],[7654.2,0.253],[7656.8,0.223],[7660.7,0.261],[7664.0,0.185],[7668.5,0.181],[7673.8,0.177],[7678.3,0.194],[7682.9,0.189],[7688.1,0.206],[7693.3,0.217],[7697.9,0.194],[7701.2,0.215],[7705.7,0.261],[7709.6,0.539],[7712.2,0.8],[7715.5,0.547],[7718.1,0.261],[7720.7,0.311],[7724.0,0.227],[7727.3,0.198],[7730.5,0.219],[7733.8,0.198],[7737.0,0.194],[7740.3,0.253],[7743.6,0.442],[7746.8,0.8],[7750.1,0.412],[7753.3,0.211],[7756.6,0.261],[7759.9,0.194],[7764.4,0.253],[7767.7,0.379],[7770.9,0.278],[7774.2,0.311],[7777.5,0.244],[7781.4,0.194],[7786.0,0.286],[7789.9,0.577],[7793.8,0.227],[7797.1,0.211],[7801.0,0.261],[7804.2,0.362],[7807.5,0.211],[7810.8,0.194],[7814.7,0.438],[7818.6,0.8],[7821.9,0.429],[7825.1,0.227],[7828.4,0.253],[7832.9,0.215],[7836.9,0.345],[7840.8,0.219],[7844.7,0.227],[7847.9,0.488],[7849.9,0.8],[7852.5,0.370],[7856.4,0.387],[7859.7,0.244],[7864.3,0.227],[7867.5,0.429],[7870.8,0.286],[7874.0,0.244],[7877.3,0.370],[7880.6,0.253],[7883.8,0.227],[7887.1,0.244],[7890.4,0.227],[7893.6,0.202],[7896.9,0.211],[7902.1,0.244],[7906.7,0.547],[7909.9,0.8],[7913.2,0.366],[7916.4,0.467],[7919.7,0.211],[7923.0,0.269],[7927.5,0.383],[7930.8,0.253],[7934.7,0.211],[7938.0,0.253],[7941.2,0.261],[7945.2,0.337],[7949.1,0.236],[7952.3,0.181],[7955.6,0.211],[7960.2,0.614],[7963.4,0.253],[7966.7,0.223],[7970.0,0.253],[7973.9,0.391],[7977.1,0.194],[7981.7,0.211],[7985.0,0.446],[7988.2,0.8],[7991.5,0.404],[7994.7,0.232],[7998.0,0.211],[8002.6,0.202],[8005.8,0.261],[8009.1,0.349],[8012.4,0.211],[8015.6,0.202],[8018.9,0.244],[8022.1,0.560],[8026.1,0.244],[8029.3,0.194],[8033.9,0.189],[8037.1,0.194],[8041.7,0.202],[8045.6,0.291],[8048.2,0.194],[8052.2,0.211],[8055.4,0.253],[8058.0,0.370],[8061.3,0.211],[8065.2,0.189],[8069.8,0.189],[8073.0,0.206],[8076.3,0.198],[8079.5,0.211],[8082.8,0.194],[8086.1,0.219],[8089.3,0.244],[8092.6,0.202],[8095.9,0.244],[8097.8,0.291],[8101.1,0.202],[8105.6,0.194],[8112.2,0.185],[8118.7,0.194],[8125.2,0.198],[8131.7,0.211],[8135.0,0.236],[8138.3,0.211],[8141.5,0.244],[8144.8,0.198],[8151.3,0.189],[8157.8,0.194],[8164.4,0.189],
[8170.9,0.194],[8177.4,0.189],[8182.0,0.211],[8185.3,0.194],[8190.5,0.211],[8195.7,0.194],[8200.3,0.198],[8204.8,0.189],[8210.0,0.194],[8216.6,0.198],[8221.8,0.206],[8226.4,0.211],[8230.9,0.215],[8236.1,0.232],[8239.4,0.219],[8242.7,0.211],[8247.9,0.198],[8252.4,0.194],[8259.0,0.189],[8265.5,0.194],[8268.8,0.253],[8272.0,0.370],[8275.3,0.501],[8278.5,0.421],[8281.8,0.8],[8285.1,0.497],[8288.3,0.8],[8291.6,0.8],[8294.9,0.8],[8298.1,0.370],[8301.4,0.227],[8304.6,0.354],[8307.9,0.211],[8311.2,0.227],[8314.4,0.202],[8317.7,0.189],[8320.9,0.194],[8326.2,0.206],[8330.7,0.253],[8334.0,0.412],[8337.3,0.8],[8340.5,0.8],[8343.8,0.379],[8347.0,0.598],[8350.3,0.295],[8353.6,0.211],[8356.8,0.269],[8360.1,0.362],[8363.3,0.219],[8366.6,0.202],[8371.2,0.236],[8375.1,0.446],[8378.4,0.269],[8381.0,0.202],[8384.2,0.211],[8387.5,0.328],[8390.8,0.8],[8394.0,0.395],[8397.9,0.202],[8401.2,0.227],[8404.5,0.311],[8408.4,0.547],[8412.3,0.236],[8415.5,0.206],[8418.8,0.227],[8422.1,0.429],[8425.3,0.8],[8428.6,0.480],[8431.9,0.211],[8437.1,0.202],[8441.6,0.253],[8444.9,0.395],[8448.2,0.488],[8451.4,0.278],[8454.7,0.211],[8456.6,0.227],[8459.9,0.8],[8463.2,0.412],[8466.4,0.211],[8469.7,0.219],[8473.0,0.194],[8477.5,0.189],[8480.8,0.227],[8484.0,0.278],[8487.3,0.387],[8490.6,0.236],[8493.8,0.202],[8497.1,0.278],[8500.4,0.581],[8503.6,0.227],[8506.9,0.189],[8511.5,0.189],[8516.7,0.202],[8521.2,0.189],[8526.5,0.189],[8529.7,0.211],[8534.3,0.295],[8537.5,0.211],[8540.8,0.261],[8542.8,0.374],[8546.0,0.211],[8549.3,0.189],[8555.8,0.189],[8562.3,0.194],[8567.6,0.211],[8572.1,0.202],[8576.7,0.189],[8580.6,0.253],[8583.9,0.211],[8587.2,0.227],[8591.7,0.278],[8595.0,0.211],[8598.2,0.211],[8601.5,0.244],[8606.1,0.328],[8611.3,0.438],[8615.8,0.514],[8621.1,0.556],[8626.3,0.556],[8630.8,0.497],[8634.1,0.404],[8637.4,0.286],[8640.6,0.395],[8643.9,0.539],[8647.2,0.589],[8650.4,0.606],[8653.7,0.606],[8656.9,0.581],[8660.2,0.577],[8663.5,0.539],[8666.7,0.505],[8670.0,0.429],[8673.2,0.354],[8676.5,0.311],[8679.8,0.303],[8683.0,0.278],[8686.3,0.261],[8689.6,0.244],[8692.8,0.257],[8696.1,0.244],[8699.3,0.253],[8702.6,0.236],[8705.9,0.215],[8712.4,0.206],[8718.9,0.215],[8725.4,0.206],[8732.0,0.219],
[8735.2,0.219],[8738.5,0.215],[8741.8,0.211],[8745.0,0.215],[8748.3,0.219],[8751.6,0.412],[8753.5,0.8],[8756.1,0.589],[8759.4,0.8],[8762.6,0.412],[8765.9,0.328],[8769.2,0.8],[8772.4,0.395],[8775.7,0.227],[8779.0,0.227],[8782.2,0.311],[8784.8,0.471],[8787.4,0.295],[8790.7,0.211],[8794.0,0.206],[8797.2,0.211],[8800.5,0.227],[8803.8,0.261],[8807.0,0.211],[8810.3,0.211],[8813.5,0.227],[8816.8,0.396],[8818.8,0.8],[8823.3,0.606],[8825.3,0.471],[8828.6,0.8],[8831.8,0.446],[8834.4,0.227],[8837.7,0.236],[8840.9,0.311],[8844.2,0.421],[8847.5,0.261],[8850.7,0.227],[8854.6,0.244],[8857.9,0.396],[8860.5,0.585],[8863.8,0.269],[8867.0,0.211],[8870.3,0.219],[8873.6,0.261],[8876.2,0.8],[8878.8,0.8],[8882.0,0.412],[8885.3,0.244],[8888.6,0.227],[8891.8,0.261],[8895.7,0.8],[8898.3,0.497],[8901.6,0.244],[8904.9,0.236],[8908.1,0.379],[8911.4,0.8],[8914.7,0.8],[8917.9,0.295],[8921.2,0.253],[8924.4,0.244],[8927.7,0.278],[8931.0,0.354],[8934.2,0.455],[8937.5,0.598],[8940.8,0.286],[8944.0,0.244],[8947.3,0.328],[8950.5,0.8],[8953.8,0.480],[8957.1,0.253],[8960.3,0.244],[8963.6,0.278],[8966.9,0.253],[8970.1,0.269],[8973.4,0.278],[8976.6,0.328],[8980.6,0.539],[8983.2,0.564],[8986.4,0.295],[8989.7,0.253],[8993.0,0.8],[8996.2,0.8],[8999.5,0.278],[9002.7,0.227],[9006.0,0.236],[9009.3,0.236],[9012.5,0.244],[9015.8,0.261],[9019.0,0.244],[9022.3,0.227],[9025.6,0.244],[9028.8,0.311],[9031.4,0.404],[9034.0,0.253],[9036.7,0.244],[9039.3,0.396],[9042.5,0.515],[9045.1,0.396],[9048.4,0.244],[9051.7,0.236],[9054.9,0.253],[9058.2,0.269],[9061.5,0.274],[9064.7,0.236],[9068.0,0.232],[9071.2,0.261],[9074.5,0.244],[9077.8,0.236],[9081.0,0.244],[9084.3,0.328],[9086.2,0.358],[9088.9,0.295],[9092.1,0.278],[9096.0,0.404],[9099.3,0.244],[9103.9,0.232],[9107.1,0.232],[9113.6,0.227],[9120.2,0.232],[9126.7,0.244],[9130.0,0.236],[9133.2,0.253],[9136.5,0.240],[9139.7,0.253],[9143.0,0.311],[9146.3,0.353],[9149.5,0.328],[9152.8,0.362],[9156.1,0.295],[9159.3,0.244],[9165.8,0.240],[9172.4,0.241],[9178.9,0.240],[9185.4,0.236],[9191.9,0.240],[9198.5,0.244],[9205.0,0.253],[9208.2,0.320],[9211.5,0.286],[9214.8,0.345],[9218.0,0.349],[9221.3,0.261],[9224.6,0.253],[9231.1,0.253],[9237.6,0.261],[9240.9,0.295],[9244.1,0.303],[9247.4,0.261],[9250.6,0.261],[9253.9,0.311],[9257.2,0.333],[9260.4,0.286],[9263.7,0.253],[9267.0,0.261],[9270.2,0.261],[9273.5,0.286],[9276.7,0.311],[9280.0,0.345],[9283.3,0.311],[9286.5,0.358],[9289.8,0.311],[9293.1,0.290],[9296.3,0.290]
];

const flux = fluxPoints.map(([w, f]) => ({w, f}));
const sky = skyPoints.map(([w, f]) => ({w, f}));
const FONT = "DejaVu Sans, Liberation Sans, sans-serif";

const chart = Plot.plot({
  width: 3000,
  height: 900,
  marginLeft: 376,
  marginRight: 300,
  marginTop: 107,
  marginBottom: 99,
  style: {fontFamily: FONT, fontSize: "27px", background: "white", color: "black"},
  x: {domain: xDomain},
  y: {domain: yDomain},
  marks: [
    Plot.ruleY(zeroLevel, {stroke: "#0000ff", strokeWidth: 4.8}),
    Plot.line(sky, {x: "w", y: "f", stroke: "#008000", strokeWidth: 1.4, clip: true}),
    Plot.line(flux, {x: "w", y: "f", stroke: "black", strokeWidth: 4.8, clip: true}),
    Plot.frame({stroke: "black", strokeWidth: 3.6}),
    Plot.axisX({ticks: xTicks, tickFormat: d => String(d), tickSize: 14.6, tickPadding: 16, fontSize: 27, strokeWidth: 3.4, label: null}),
    Plot.axisY({ticks: yTicks, tickFormat: d3.format(".1f"), tickSize: 14.6, tickPadding: 16, fontSize: 34, strokeWidth: 3.4, label: null})
  ]
});

const svg = d3.select(chart);
svg.append("text")
  .attr("x", 1538).attr("y", 86)
  .attr("text-anchor", "middle")
  .attr("font-family", FONT).attr("font-size", 49).attr("fill", "black")
  .text(titleText);

svg.append("text")
  .attr("x", 1538).attr("y", 889)
  .attr("text-anchor", "middle")
  .attr("font-family", FONT).attr("font-size", 33).attr("fill", "black")
  .text(xLabelText);

const yl = svg.append("text")
  .attr("transform", "translate(225,453) rotate(-90)")
  .attr("text-anchor", "middle")
  .attr("font-family", FONT).attr("font-size", 47).attr("fill", "black");
const parts = [["10", false], ["\u221218", true], [" erg s", false], ["\u22121", true], [" cm", false], ["\u22122", true], [" \u00C5", false], ["\u22121", true]];
parts.forEach(([t, sup], i) => {
  yl.append("tspan")
    .attr("font-size", sup ? 27 : 47)
    .attr("dy", i === 0 ? 0 : (sup ? -20 : 20))
    .text(t);
});

document.getElementById("chart").appendChild(chart);
</script>
</body>
</html>
